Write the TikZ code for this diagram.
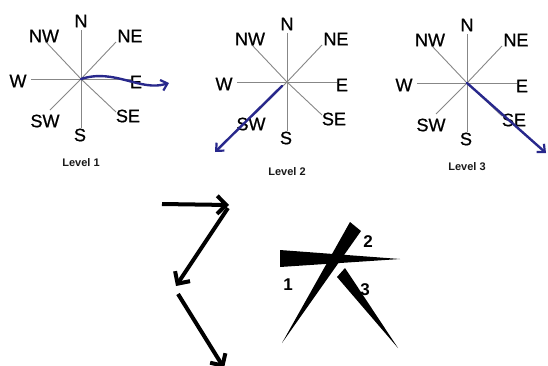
\documentclass[tikz,border=0pt]{standalone}
\usepackage{fontspec}
\setmainfont{Liberation Sans}
\newfontfamily\labfont{Liberation Sans}[FakeBold=0.7]
\usetikzlibrary{calc,arrows.meta}
\definecolor{navy}{RGB}{40,40,140}
\definecolor{spokegray}{RGB}{135,135,135}
\tikzset{
  lab/.style={font=\labfont\fontsize{18}{18}\selectfont, inner sep=0pt, text=black},
  lvl/.style={font=\bfseries\fontsize{11}{12}\selectfont, inner sep=0pt, text=black!90},
  num/.style={font=\bfseries\fontsize{17}{17}\selectfont, inner sep=0pt},
  spoke/.style={draw=spokegray, line width=0.9pt},
  bluearrow/.style={draw=navy, line width=2.4pt, line cap=round, -{Straight Barb[length=6pt,width=11pt,line width=2.2pt]}},
  blackarrow/.style={draw=black, line width=4pt, -{Straight Barb[length=9pt,width=18pt,line width=4pt]}},
  wedge/.style={fill=black}
}
\newcommand\drawcompass[3]{%
  \coordinate (#1c) at (#2,#3);
  \foreach \d/\dx/\dy in {N/0/-49,S/0/49,W/-50/0,E/50/0,NW/-35/-37,NE/35/-37,SW/-31/31,SE/35/33}{
    \coordinate (#1\d) at ($(#1c)+(\dx,\dy)$);
    \draw[spoke] (#1c) -- (#1\d);
  }
  \node[lab] (#1lN) at ($(#1c)+(0,-58)$) {N};
  \node[lab] (#1lNW) at ($(#1c)+(-37,-43)$) {NW};
  \node[lab] (#1lNE) at ($(#1c)+(49,-43)$) {NE};
  \node[lab] (#1lW) at ($(#1c)+(-63,2)$) {W};
  \node[lab] (#1lE) at ($(#1c)+(55,3)$) {E};
  \node[lab] (#1lSW) at ($(#1c)+(-36,42)$) {SW};
  \node[lab] (#1lSE) at ($(#1c)+(47,37)$) {SE};
  \node[lab] (#1lS) at ($(#1c)+(-1,56)$) {S};
}
\begin{document}
\begin{tikzpicture}[x=1pt,y=-1pt]
\useasboundingbox (0,0) rectangle (548,365);
\fill[white] (0,0) rectangle (548,365);

% compasses
\drawcompass{a}{81}{79}
\drawcompass{b}{287}{82}
\drawcompass{c}{467}{83}

\node[lvl] (lv1) at (81,163) {Level 1};
\node[lvl] (lv2) at (287,172) {Level 2};
\node[lvl] (lv3) at (467,167) {Level 3};

% blue arrows
\coordinate (atip) at (169,83);
\coordinate (bstart) at (282,86);
\coordinate (btip) at (215,152);
\coordinate (ctip) at (546,153);
\draw[bluearrow] (ac) .. controls (115,68) and (140,92) .. (atip);
\draw[bluearrow] (bstart) -- (btip);
\draw[bluearrow] (cc) -- (ctip);

% black arrows (bottom left)
\coordinate (k1) at (162,204);
\coordinate (k2) at (229,205);
\coordinate (k3) at (228,208);
\coordinate (k4) at (176,286);
\coordinate (k5) at (178,294);
\coordinate (k6) at (224,368);
\draw[blackarrow] (k1) -- (k2);
\draw[blackarrow] (k3) -- (k4);
\draw[blackarrow] (k5) -- (k6);

% wedges (bottom right)
\fill[wedge] (280,250) -- (400,259) -- (280,267) -- cycle;
\fill[wedge] (350,222) -- (361,231) -- (282,343) -- cycle;
\fill[wedge] (337,277) -- (345,268) -- (398,348) -- cycle;
\node[num] (n1) at (288,285) {1};
\node[num] (n2) at (368,242) {2};
\node[num] (n3) at (365,290) {3};
\end{tikzpicture}
\end{document}
